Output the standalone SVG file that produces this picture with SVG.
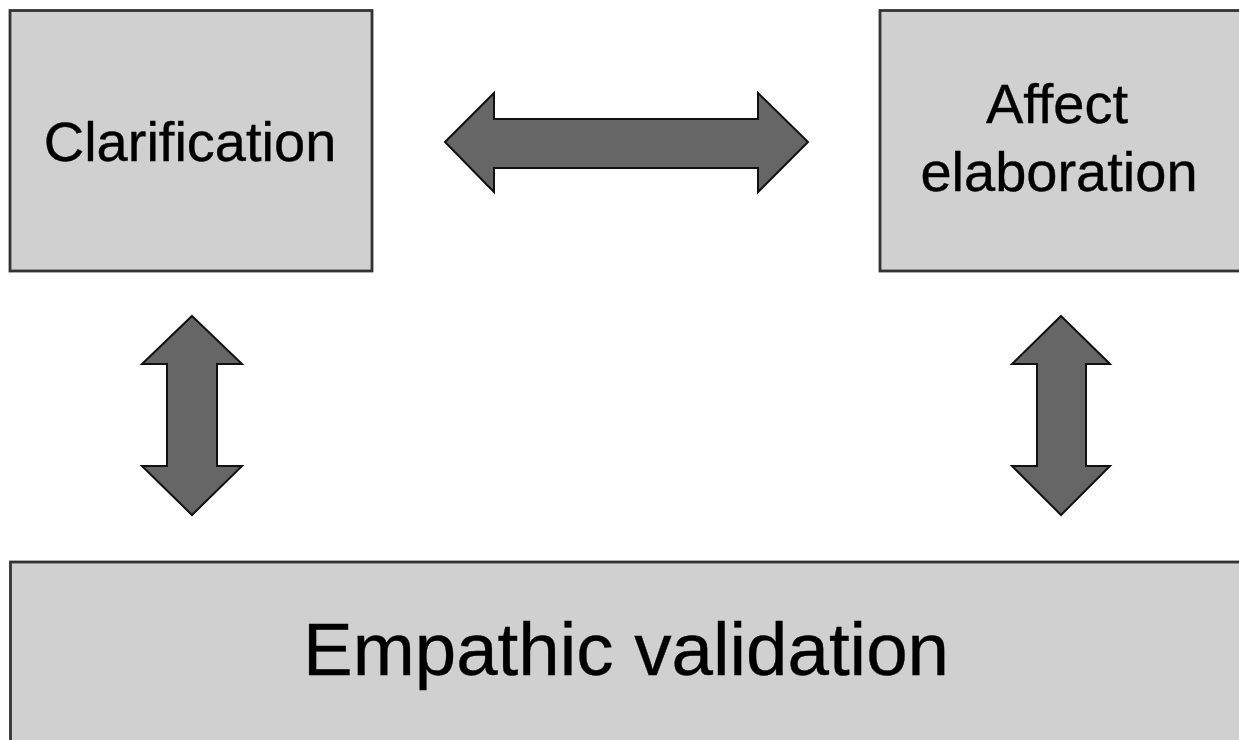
<svg xmlns="http://www.w3.org/2000/svg" width="1239" height="740" viewBox="0 0 1239 740">
  <style>
    .box { fill: #d0d0d0; stroke: #333333; stroke-width: 2.8; }
    .label { font-family: "Liberation Sans", Arial, sans-serif; fill: #000; stroke: #000; stroke-width: 0.4; text-anchor: middle; }
    .arrow { fill: #666666; stroke: #111111; stroke-width: 2; stroke-linejoin: miter; }
  </style>
  <rect width="1239" height="740" fill="#ffffff"/>

  <g id="clarification">
    <rect class="box" x="10" y="10.5" width="362" height="260.5"/>
    <text class="label" x="190" y="161" font-size="56">Clarification</text>
  </g>

  <g id="affect-elaboration">
    <rect class="box" x="880" y="10.5" width="366" height="260.5"/>
    <text class="label" x="1057" y="123" font-size="56">Affect</text>
    <text class="label" x="1059" y="191" font-size="56">elaboration</text>
  </g>

  <g id="empathic-validation">
    <rect class="box" x="10.5" y="562" width="1236" height="190"/>
    <text class="label" x="626" y="675" font-size="74.5">Empathic validation</text>
  </g>

  <g id="connectors">
    <!-- horizontal double arrow between the top boxes -->
    <polygon class="arrow" points="445,142 494,93 494,119 758,119 758,93 808,142 758,192 758,168 494,168 494,192"/>
    <!-- vertical double arrow, left -->
    <polygon class="arrow" points="192,316 242,364 217,364 217,466 242,466 192,515 142,466 167,466 167,364 142,364"/>
    <!-- vertical double arrow, right -->
    <polygon class="arrow" points="1061,316 1110,364 1086,364 1086,466 1110,466 1061,515 1012,466 1037,466 1037,364 1012,364"/>
  </g>
</svg>
